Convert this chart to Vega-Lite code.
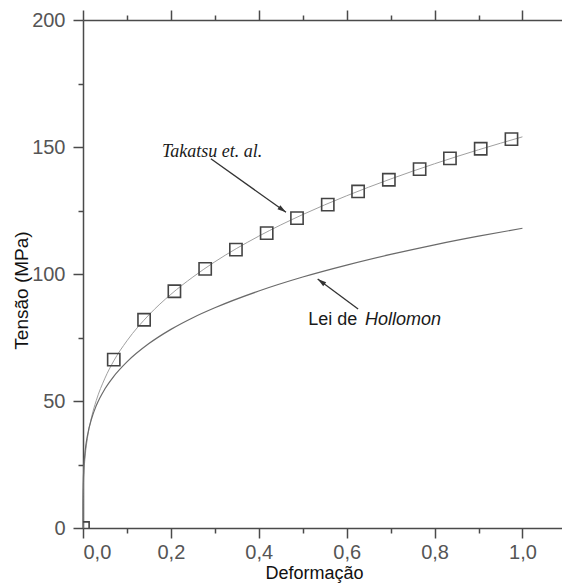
{
  "$schema": "https://vega.github.io/schema/vega-lite/v6.json",
  "width": 479,
  "height": 508,
  "autosize": {"type": "none"},
  "padding": {"left": 83, "top": 20, "right": 0, "bottom": 55},
  "background": "white",
  "config": {
    "view": {"stroke": null},
    "axis": {
      "grid": false,
      "domainColor": "#4a4a4a",
      "tickColor": "#4a4a4a",
      "domainWidth": 1.5,
      "tickWidth": 1.5,
      "labelColor": "#555555",
      "labelFont": "Liberation Sans",
      "labelFontSize": 20,
      "titleFont": "Liberation Sans",
      "titleFontSize": 18,
      "titleFontWeight": "normal",
      "titleColor": "#111111"
    }
  },
  "datasets": {
    "takatsu_curve": [
      {"eps": 0, "sigma": 0}, {"eps": 0.00005, "sigma": 6.5}, {"eps": 0.0005, "sigma": 13.5},
      {"eps": 0.002, "sigma": 21.1}, {"eps": 0.005, "sigma": 28.3}, {"eps": 0.01, "sigma": 35.3},
      {"eps": 0.02, "sigma": 44.0}, {"eps": 0.03, "sigma": 50.1}, {"eps": 0.05, "sigma": 59.0},
      {"eps": 0.07, "sigma": 65.8}, {"eps": 0.1, "sigma": 73.7}, {"eps": 0.15, "sigma": 83.9},
      {"eps": 0.2, "sigma": 92.0}, {"eps": 0.25, "sigma": 98.8}, {"eps": 0.3, "sigma": 104.8},
      {"eps": 0.4, "sigma": 114.9}, {"eps": 0.5, "sigma": 123.4}, {"eps": 0.6, "sigma": 130.8},
      {"eps": 0.7, "sigma": 137.4}, {"eps": 0.8, "sigma": 143.4}, {"eps": 0.9, "sigma": 148.9},
      {"eps": 1.0, "sigma": 154.0}
    ],
    "hollomon_curve": [
      {"eps": 0, "sigma": 0}, {"eps": 0.00005, "sigma": 9.4}, {"eps": 0.0005, "sigma": 16.9},
      {"eps": 0.002, "sigma": 24.0}, {"eps": 0.005, "sigma": 30.4}, {"eps": 0.01, "sigma": 36.3},
      {"eps": 0.02, "sigma": 43.3}, {"eps": 0.03, "sigma": 48.1}, {"eps": 0.05, "sigma": 54.8},
      {"eps": 0.07, "sigma": 59.7}, {"eps": 0.1, "sigma": 65.4}, {"eps": 0.15, "sigma": 72.6},
      {"eps": 0.2, "sigma": 78.2}, {"eps": 0.25, "sigma": 82.8}, {"eps": 0.3, "sigma": 86.7},
      {"eps": 0.4, "sigma": 93.3}, {"eps": 0.5, "sigma": 98.8}, {"eps": 0.6, "sigma": 103.5},
      {"eps": 0.7, "sigma": 107.7}, {"eps": 0.8, "sigma": 111.5}, {"eps": 0.9, "sigma": 114.9},
      {"eps": 1.0, "sigma": 118.0}
    ],
    "takatsu_points": [
      {"eps": 0, "sigma": 0}, {"eps": 0.07, "sigma": 66.3}, {"eps": 0.139, "sigma": 82.0},
      {"eps": 0.208, "sigma": 93.2}, {"eps": 0.278, "sigma": 102.0}, {"eps": 0.348, "sigma": 109.6},
      {"eps": 0.418, "sigma": 116.1}, {"eps": 0.487, "sigma": 122.0}, {"eps": 0.557, "sigma": 127.3},
      {"eps": 0.626, "sigma": 132.5}, {"eps": 0.696, "sigma": 137.1}, {"eps": 0.766, "sigma": 141.3},
      {"eps": 0.835, "sigma": 145.5}, {"eps": 0.905, "sigma": 149.3}, {"eps": 0.975, "sigma": 153.1}
    ],
    "arrows": [
      {"name": "takatsu", "eps": 0.291, "sigma": 145.4, "eps2": 0.462, "sigma2": 124.3},
      {"name": "hollomon", "eps": 0.626, "sigma": 86.2, "eps2": 0.534, "sigma2": 98.0}
    ],
    "labels": [
      {"text": "Takatsu et. al.", "eps": 0.1795, "sigma": 146.2, "style": "serif"},
      {"text": "Lei de", "eps": 0.5127, "sigma": 80.0, "style": "plain"},
      {"text": "Hollomon", "eps": 0.6416, "sigma": 80.0, "style": "italic"}
    ]
  },
  "layer": [
    {
      "data": {"name": "takatsu_curve"},
      "mark": {"type": "line", "color": "#a0a0a0", "strokeWidth": 1, "interpolate": "monotone"},
      "encoding": {
        "x": {
          "field": "eps", "type": "quantitative",
          "scale": {"domain": [0, 1.09], "nice": false, "zero": false},
          "axis": {
            "orient": "bottom",
            "values": [0, 0.2, 0.4, 0.6, 0.8, 1.0],
            "tickSize": 10,
            "labelPadding": 4,
            "labelExpr": "replace(format(datum.value, '.1f'), '.', ',')",
            "title": "Deformação",
            "titleAnchor": "start",
            "titleAlign": "center",
            "titleBaseline": "alphabetic",
            "titleX": 231,
            "titleY": 50
          }
        },
        "y": {
          "field": "sigma", "type": "quantitative",
          "scale": {"domain": [0, 200], "nice": false},
          "axis": {
            "orient": "left",
            "values": [0, 50, 100, 150, 200],
            "tickSize": 10,
            "labelPadding": 8,
            "title": "Tensão (MPa)",
            "titleFontSize": 19,
            "titleAngle": -90,
            "titleAlign": "center",
            "titleBaseline": "alphabetic",
            "titleAnchor": "start",
            "titleX": -56,
            "titleY": 270
          }
        }
      }
    },
    {
      "data": {"name": "hollomon_curve"},
      "mark": {"type": "line", "color": "#6a6a6a", "strokeWidth": 1.2, "interpolate": "monotone"},
      "encoding": {
        "x": {
          "field": "eps", "type": "quantitative",
          "scale": {"domain": [0, 1.09], "nice": false, "zero": false},
          "axis": {"orient": "bottom", "values": [0.1, 0.3, 0.5, 0.7, 0.9], "tickSize": 5, "labels": false, "domain": false, "title": null}
        },
        "y": {
          "field": "sigma", "type": "quantitative",
          "scale": {"domain": [0, 200], "nice": false},
          "axis": {"orient": "left", "values": [25, 75, 125, 175], "tickSize": 5, "labels": false, "domain": false, "title": null}
        }
      }
    },
    {
      "data": {"name": "takatsu_points"},
      "mark": {"type": "point", "shape": "square", "size": 150, "filled": false, "stroke": "#444444", "strokeWidth": 1.6, "opacity": 1, "clip": true},
      "encoding": {
        "x": {
          "field": "eps", "type": "quantitative",
          "scale": {"domain": [0, 1.09], "nice": false, "zero": false},
          "axis": {"orient": "top", "values": [0, 0.2, 0.4, 0.6, 0.8, 1.0], "tickSize": 10, "labels": false, "title": null}
        },
        "y": {
          "field": "sigma", "type": "quantitative",
          "scale": {"domain": [0, 200], "nice": false},
          "axis": null
        }
      }
    },
    {
      "data": {"name": "arrows"},
      "mark": {"type": "rule", "color": "#333333", "strokeWidth": 1.3},
      "encoding": {
        "x": {
          "field": "eps", "type": "quantitative",
          "scale": {"domain": [0, 1.09], "nice": false, "zero": false},
          "axis": {"orient": "top", "values": [0.1, 0.3, 0.5, 0.7, 0.9], "tickSize": 5, "labels": false, "domain": false, "title": null}
        },
        "y": {"field": "sigma", "type": "quantitative", "scale": {"domain": [0, 200], "nice": false}, "axis": null},
        "x2": {"field": "eps2"},
        "y2": {"field": "sigma2"}
      }
    },
    {
      "data": {"name": "arrows"},
      "transform": [{"filter": "datum.name === 'takatsu'"}],
      "mark": {"type": "point", "shape": "M0,0L-0.45,1.6L0.45,1.6Z", "size": 120, "filled": true, "color": "#333333", "opacity": 1, "angle": 125.6},
      "encoding": {
        "x": {"field": "eps2", "type": "quantitative", "scale": {"domain": [0, 1.09], "nice": false, "zero": false}, "axis": null},
        "y": {"field": "sigma2", "type": "quantitative", "scale": {"domain": [0, 200], "nice": false}, "axis": null}
      }
    },
    {
      "data": {"name": "arrows"},
      "transform": [{"filter": "datum.name === 'hollomon'"}],
      "mark": {"type": "point", "shape": "M0,0L-0.45,1.6L0.45,1.6Z", "size": 120, "filled": true, "color": "#333333", "opacity": 1, "angle": 306.7},
      "encoding": {
        "x": {"field": "eps2", "type": "quantitative", "scale": {"domain": [0, 1.09], "nice": false, "zero": false}, "axis": null},
        "y": {"field": "sigma2", "type": "quantitative", "scale": {"domain": [0, 200], "nice": false}, "axis": null}
      }
    },
    {
      "data": {"name": "labels"},
      "transform": [{"filter": "datum.style === 'serif'"}],
      "mark": {"type": "text", "font": "Liberation Serif", "fontStyle": "italic", "fontSize": 18, "align": "left", "baseline": "alphabetic", "color": "#1a1a1a"},
      "encoding": {
        "x": {"field": "eps", "type": "quantitative", "scale": {"domain": [0, 1.09], "nice": false, "zero": false}, "axis": null},
        "y": {"field": "sigma", "type": "quantitative", "scale": {"domain": [0, 200], "nice": false}, "axis": null},
        "text": {"field": "text"}
      }
    },
    {
      "data": {"name": "labels"},
      "transform": [{"filter": "datum.style === 'plain'"}],
      "mark": {"type": "text", "font": "Liberation Sans", "fontSize": 18, "align": "left", "baseline": "alphabetic", "color": "#1a1a1a"},
      "encoding": {
        "x": {"field": "eps", "type": "quantitative", "scale": {"domain": [0, 1.09], "nice": false, "zero": false}, "axis": null},
        "y": {"field": "sigma", "type": "quantitative", "scale": {"domain": [0, 200], "nice": false}, "axis": null},
        "text": {"field": "text"}
      }
    },
    {
      "data": {"name": "labels"},
      "transform": [{"filter": "datum.style === 'italic'"}],
      "mark": {"type": "text", "font": "Liberation Sans", "fontStyle": "italic", "fontSize": 18, "align": "left", "baseline": "alphabetic", "color": "#1a1a1a"},
      "encoding": {
        "x": {"field": "eps", "type": "quantitative", "scale": {"domain": [0, 1.09], "nice": false, "zero": false}, "axis": null},
        "y": {"field": "sigma", "type": "quantitative", "scale": {"domain": [0, 200], "nice": false}, "axis": null},
        "text": {"field": "text"}
      }
    }
  ],
  "resolve": {"axis": {"x": "independent", "y": "independent"}}
}
